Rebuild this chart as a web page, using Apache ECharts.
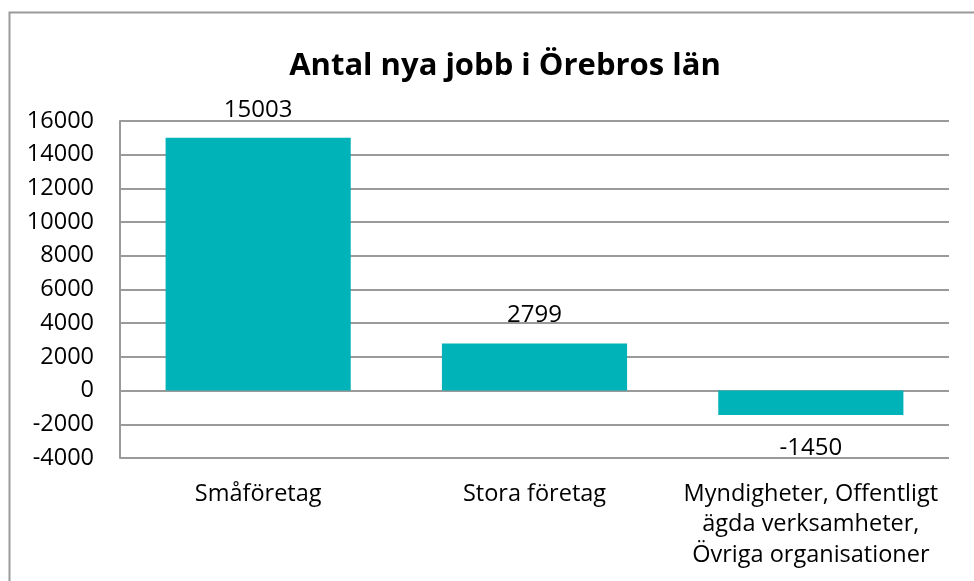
<!DOCTYPE html>
<html>
<head>
<meta charset="utf-8">
<script src="https://cdn.jsdelivr.net/npm/echarts@6/dist/echarts.min.js"></script>
<style>
html, body { margin: 0; padding: 0; background: #fff; }
#chart { width: 974px; height: 581px; }
</style>
</head>
<body>
<div id="chart"></div>
<script>
var categories = ['Småföretag', 'Stora företag', 'Myndigheter, Offentligt\nägda verksamheter,\nÖvriga organisationer'];
var values = [15003, 2799, -1450];
var chartTitle = 'Antal nya jobb i Örebros län';

var font = '"Open Sans", sans-serif';
var chart = echarts.init(document.getElementById('chart'));

// negativa staplar får etiketten lite längre ner
var barData = values.map(function (v) {
    return v < 0 ? { value: v, label: { distance: 21 } } : v;
});

chart.setOption({
    animation: false,
    title: {
        text: chartTitle,
        left: 500,
        textAlign: 'center',
        top: 46,
        textStyle: { fontFamily: font, fontSize: 31, fontWeight: 'bold', color: '#000' }
    },
    graphic: [{
        type: 'rect',
        shape: { x: 9.5, y: 12.5, width: 1000, height: 600 },
        style: { fill: 'none', stroke: '#9a9a9a', lineWidth: 2 },
        silent: true
    }],
    grid: { left: 120, right: 25, top: 121, bottom: 123, containLabel: false },
    xAxis: {
        type: 'category',
        data: categories,
        axisLine: { show: false },
        axisTick: { show: false },
        axisLabel: {
            fontFamily: font, fontSize: 23.5, color: '#000',
            lineHeight: 30.5, margin: 21, interval: 0
        }
    },
    yAxis: {
        type: 'value',
        min: -4000,
        max: 16000,
        interval: 2000,
        axisLine: { show: true, lineStyle: { color: '#9a9a9a', width: 2 } },
        axisTick: { show: false },
        splitLine: { lineStyle: { color: '#9a9a9a', width: 2 } },
        axisLabel: {
            fontFamily: font, fontSize: 23.5, color: '#000', margin: 26,
            formatter: function (v) { return String(v); }
        }
    },
    series: [{
        type: 'bar',
        data: barData,
        barWidth: '67%',
        itemStyle: { color: '#00B3B9' },
        label: {
            show: true,
            position: 'outside',
            fontFamily: font,
            fontSize: 24,
            color: '#000',
            distance: 16
        }
    }]
});
</script>
</body>
</html>
